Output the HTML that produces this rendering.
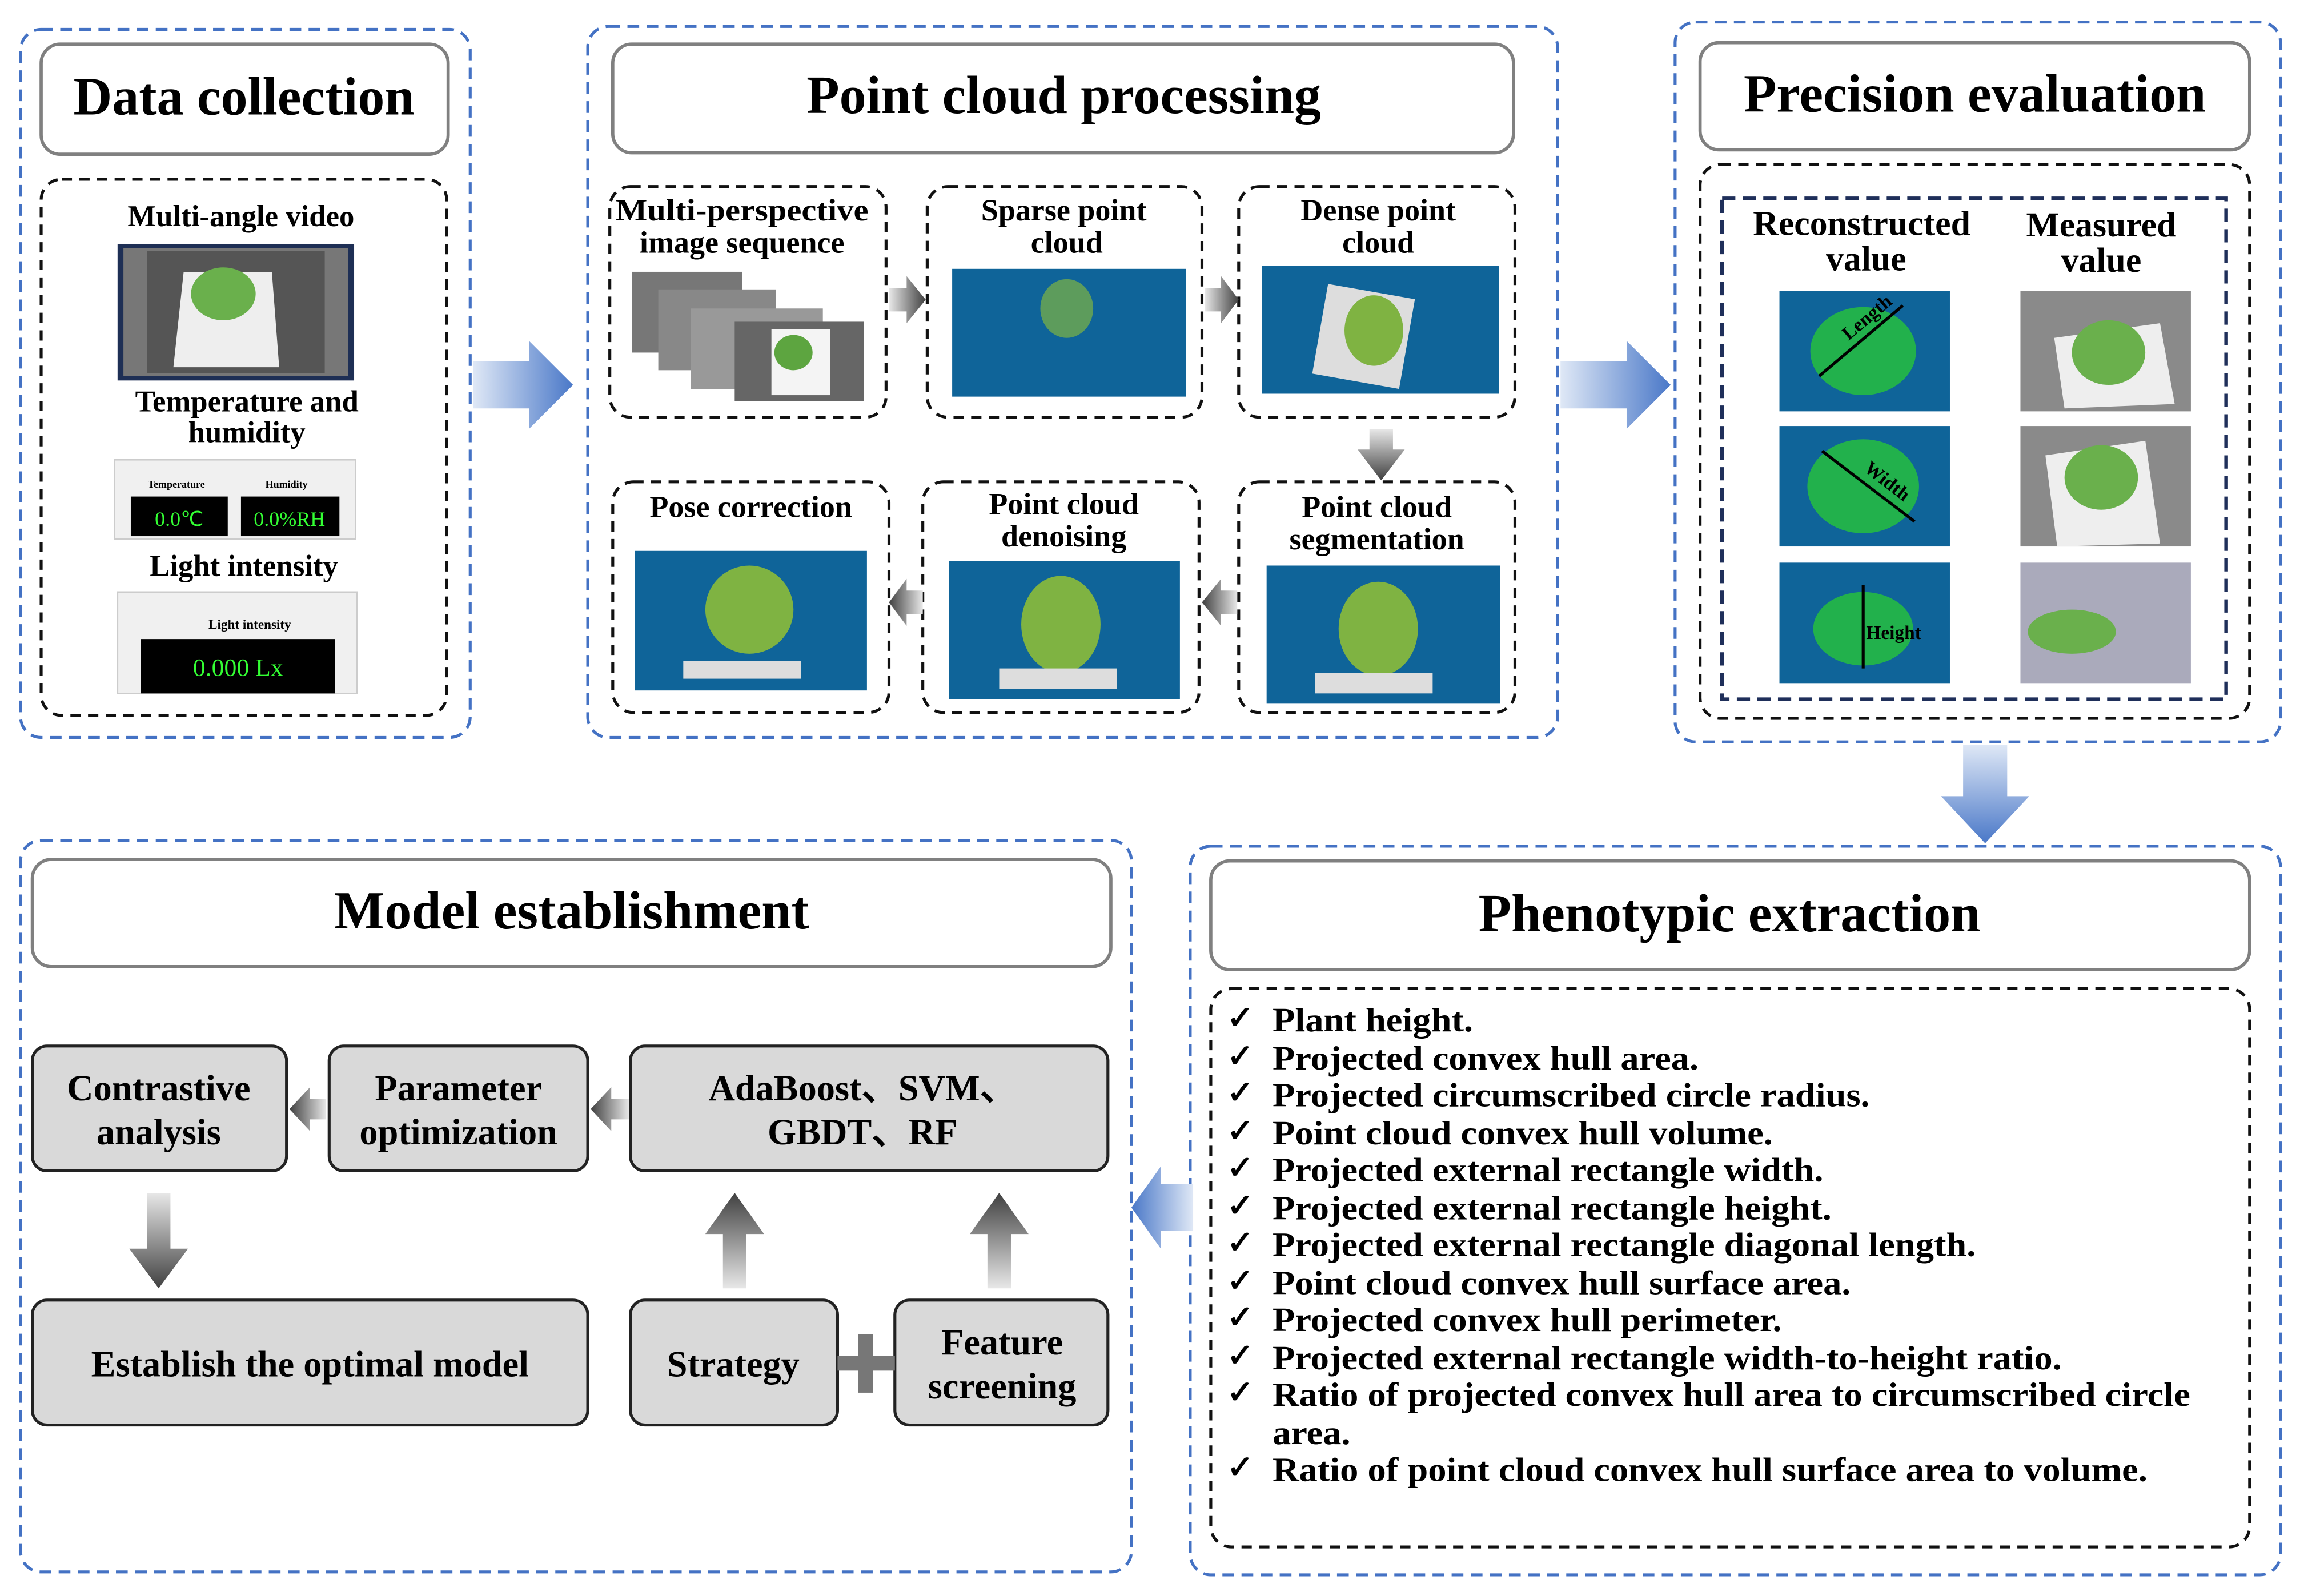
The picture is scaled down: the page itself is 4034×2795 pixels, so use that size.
<!DOCTYPE html>
<html><head><meta charset="utf-8"><style>
html,body{margin:0;padding:0;background:#fff;}
svg{display:block;}
text{font-family:"Liberation Serif",serif;font-weight:bold;fill:#000;}
</style></head><body>
<svg width="4034" height="2795" viewBox="0 0 1568 1086.4" preserveAspectRatio="none" xmlns="http://www.w3.org/2000/svg">
<defs>
<linearGradient id="bh" x1="0" y1="0" x2="1" y2="0"><stop offset="0" stop-color="#dfe8f6"/><stop offset="1" stop-color="#4a78c8"/></linearGradient>
<linearGradient id="bhl" x1="1" y1="0" x2="0" y2="0"><stop offset="0" stop-color="#dfe8f6"/><stop offset="1" stop-color="#4a78c8"/></linearGradient>
<linearGradient id="bv" x1="0" y1="0" x2="0" y2="1"><stop offset="0" stop-color="#dfe8f6"/><stop offset="1" stop-color="#4a78c8"/></linearGradient>
<linearGradient id="gh" x1="0" y1="0" x2="1" y2="0"><stop offset="0" stop-color="#e8e8e8"/><stop offset="1" stop-color="#404040"/></linearGradient>
<linearGradient id="ghl" x1="1" y1="0" x2="0" y2="0"><stop offset="0" stop-color="#e8e8e8"/><stop offset="1" stop-color="#404040"/></linearGradient>
<linearGradient id="gv" x1="0" y1="0" x2="0" y2="1"><stop offset="0" stop-color="#e8e8e8"/><stop offset="1" stop-color="#404040"/></linearGradient>
<linearGradient id="gvu" x1="0" y1="1" x2="0" y2="0"><stop offset="0" stop-color="#e8e8e8"/><stop offset="1" stop-color="#404040"/></linearGradient>
</defs>
<g fill="none" stroke="#4472c4" stroke-width="2" stroke-dasharray="8,5">
<rect x="14" y="20" width="306" height="482" rx="14"/>
<rect x="400" y="18" width="660" height="484" rx="14"/>
<rect x="1140" y="15" width="412" height="490" rx="14"/>
<rect x="14" y="572" width="756" height="498" rx="14"/>
<rect x="810" y="576" width="742" height="496" rx="14"/>
</g>
<g fill="#fff" stroke="#808080" stroke-width="2.2">
<rect x="28" y="30" width="277" height="75" rx="13"/>
<rect x="417" y="30" width="613" height="74" rx="13"/>
<rect x="1157" y="29" width="374" height="73" rx="13"/>
<rect x="22" y="585" width="734" height="73" rx="13"/>
<rect x="824" y="586" width="707" height="74" rx="13"/>
</g>
<g font-size="36.5" text-anchor="middle">
<text x="166" y="78">Data collection</text>
<text x="724" y="77">Point cloud processing</text>
<text x="1344" y="76">Precision evaluation</text>
<text x="389" y="632">Model establishment</text>
<text x="1177" y="634">Phenotypic extraction</text>
</g>
<g fill="none" stroke="#111" stroke-width="2" stroke-dasharray="7,5">
<rect x="28" y="122" width="276" height="365" rx="14"/>
<rect x="415" y="127" width="188" height="157" rx="14"/>
<rect x="631" y="127" width="187" height="157" rx="14"/>
<rect x="843" y="127" width="188" height="157" rx="14"/>
<rect x="417" y="328" width="188" height="157" rx="14"/>
<rect x="628" y="328" width="188" height="157" rx="14"/>
<rect x="843" y="328" width="188" height="157" rx="14"/>
<rect x="1157" y="112" width="374" height="377" rx="14"/>
<rect x="824" y="673" width="707" height="380" rx="14"/>
</g>
<rect x="1172" y="135" width="343" height="341" fill="none" stroke="#1f2f5a" stroke-width="2.5" stroke-dasharray="9,5"/>
<g font-size="20.5" text-anchor="middle">
<text x="164" y="154">Multi-angle video</text>
<text x="168" y="280">Temperature and</text>
<text x="168" y="301">humidity</text>
<text x="166" y="392">Light intensity</text>
</g>
<rect x="80" y="166" width="161" height="93" fill="#1e2f55"/>
<rect x="84" y="169" width="153" height="87" fill="#777"/>
<rect x="100" y="171" width="121" height="83" fill="#555"/>
<polygon points="125,185 185,185 190,250 118,250" fill="#eee"/>
<ellipse cx="152" cy="200" rx="22" ry="18" fill="#6ab04c"/>
<rect x="78" y="313" width="164" height="54" fill="#f0f0f0" stroke="#ccc"/>
<text x="120" y="332" font-size="7" text-anchor="middle">Temperature</text>
<text x="195" y="332" font-size="7" text-anchor="middle">Humidity</text>
<rect x="89" y="338" width="66" height="27" fill="#000"/>
<rect x="164" y="338" width="67" height="27" fill="#000"/>
<text x="122" y="358" font-size="14" text-anchor="middle" style="fill:#3f3;font-weight:normal">0.0℃</text>
<text x="197" y="358" font-size="14" text-anchor="middle" style="fill:#3f3;font-weight:normal">0.0%RH</text>
<rect x="80" y="403" width="163" height="69" fill="#f0f0f0" stroke="#ccc"/>
<text x="170" y="428" font-size="9" text-anchor="middle">Light intensity</text>
<rect x="96" y="435" width="132" height="37" fill="#000"/>
<text x="162" y="460" font-size="17" text-anchor="middle" style="fill:#3f3;font-weight:normal">0.000 Lx</text>
<g font-size="21" text-anchor="middle">
<text x="505" y="150" textLength="172" lengthAdjust="spacingAndGlyphs">Multi-perspective</text>
<text x="505" y="172">image sequence</text>
<text x="724" y="150">Sparse point</text>
<text x="726" y="172">cloud</text>
<text x="938" y="150">Dense point</text>
<text x="938" y="172">cloud</text>
<text x="511" y="352">Pose correction</text>
<text x="724" y="350">Point cloud</text>
<text x="724" y="372">denoising</text>
<text x="937" y="352">Point cloud</text>
<text x="937" y="374">segmentation</text>
</g>
<g>
<rect x="430" y="185" width="75" height="55" fill="#777"/>
<rect x="448" y="197" width="80" height="55" fill="#888"/>
<rect x="470" y="210" width="90" height="55" fill="#999"/>
<rect x="500" y="219" width="88" height="54" fill="#666"/>
<rect x="525" y="224" width="40" height="45" fill="#f4f4f4"/>
<ellipse cx="540" cy="240" rx="13" ry="12" fill="#5da540"/>
</g>
<g fill="#0f6499">
<rect x="648" y="183" width="159" height="87"/>
<rect x="859" y="181" width="161" height="87"/>
<rect x="432" y="375" width="158" height="95"/>
<rect x="646" y="382" width="157" height="94"/>
<rect x="862" y="385" width="159" height="94"/>
</g>
<g fill="#7fb342">
<ellipse cx="726" cy="210" rx="18" ry="20" opacity="0.7"/>
<rect x="898" y="198" width="60" height="62" fill="#ddd" transform="rotate(10 928 229)"/>
<ellipse cx="935" cy="225" rx="20" ry="24"/>
<ellipse cx="510" cy="415" rx="30" ry="30"/>
<rect x="465" y="450" width="80" height="12" fill="#ddd"/>
<ellipse cx="722" cy="425" rx="27" ry="33"/>
<rect x="680" y="455" width="80" height="14" fill="#ddd"/>
<ellipse cx="938" cy="428" rx="27" ry="32"/>
<rect x="895" y="458" width="80" height="14" fill="#ddd"/>
</g>
<polygon points="605,196 617,196 617,188 630,204 617,220 617,212 605,212" fill="url(#gh)"/>
<polygon points="820,196 831,196 831,188 843,204 831,220 831,212 820,212" fill="url(#gh)"/>
<polygon points="932,292 948,292 948,306 956,306 940,327 924,306 932,306" fill="url(#gv)"/>
<polygon points="628,402 617,402 617,394 605,410 617,426 617,418 628,418" fill="url(#ghl)"/>
<polygon points="842,402 831,402 831,394 818,410 831,426 831,418 842,418" fill="url(#ghl)"/>
<polygon points="322,246 360,246 360,232 390,262 360,292 360,278 322,278" fill="url(#bh)"/>
<polygon points="1062,246 1107,246 1107,232 1137,262 1107,292 1107,278 1062,278" fill="url(#bh)"/>
<polygon points="1336,507 1366,507 1366,542 1381,542 1351,574 1321,542 1336,542" fill="url(#bv)"/>
<polygon points="812,806 790,806 790,794 770,822 790,850 790,838 812,838" fill="url(#bhl)"/>
<g font-size="24" text-anchor="middle">
<text x="1267" y="160">Reconstructed</text>
<text x="1270" y="184">value</text>
<text x="1430" y="161">Measured</text>
<text x="1430" y="185">value</text>
</g>
<g fill="#0f6499">
<rect x="1211" y="198" width="116" height="82"/>
<rect x="1211" y="290" width="116" height="82"/>
<rect x="1211" y="383" width="116" height="82"/>
</g>
<g fill="#22b14c">
<ellipse cx="1268" cy="239" rx="36" ry="30"/>
<ellipse cx="1268" cy="331" rx="38" ry="32"/>
<ellipse cx="1268" cy="428" rx="34" ry="25"/>
</g>
<g stroke="#000" stroke-width="2">
<line x1="1238" y1="256" x2="1295" y2="208"/>
<line x1="1240" y1="307" x2="1303" y2="355"/>
<line x1="1268" y1="398" x2="1268" y2="455"/>
</g>
<text x="1258" y="232" font-size="13" transform="rotate(-40 1258 232)">Length</text>
<text x="1268" y="320" font-size="13" transform="rotate(38 1268 320)">Width</text>
<text x="1270" y="435" font-size="13">Height</text>
<g fill="#8a8a8a">
<rect x="1375" y="198" width="116" height="82"/>
<rect x="1375" y="290" width="116" height="82"/>
<rect x="1375" y="383" width="116" height="82" fill="#aab"/>
</g>
<polygon points="1398,230 1470,220 1480,275 1405,278" fill="#eee"/>
<ellipse cx="1435" cy="240" rx="25" ry="22" fill="#6ab04c"/>
<polygon points="1392,310 1460,300 1470,370 1400,372" fill="#eee"/>
<ellipse cx="1430" cy="325" rx="25" ry="22" fill="#6ab04c"/>
<ellipse cx="1410" cy="430" rx="30" ry="15" fill="#6ab04c"/>
<g fill="#d9d9d9" stroke="#222" stroke-width="2">
<rect x="22" y="712" width="173" height="85" rx="10"/>
<rect x="224" y="712" width="176" height="85" rx="10"/>
<rect x="429" y="712" width="325" height="85" rx="10"/>
<rect x="22" y="885" width="378" height="85" rx="10"/>
<rect x="429" y="885" width="141" height="85" rx="10"/>
<rect x="609" y="885" width="145" height="85" rx="10"/>
</g>
<g font-size="25" text-anchor="middle">
<text x="108" y="749">Contrastive</text>
<text x="108" y="779">analysis</text>
<text x="312" y="749">Parameter</text>
<text x="312" y="779">optimization</text>
<text x="587" y="749">AdaBoost、SVM、</text>
<text x="587" y="779">GBDT、RF</text>
<text x="211" y="937">Establish the optimal model</text>
<text x="499" y="937">Strategy</text>
<text x="682" y="922">Feature</text>
<text x="682" y="952">screening</text>
</g>
<polygon points="222,748 211,748 211,740 197,755 211,770 211,762 222,762" fill="url(#ghl)"/>
<polygon points="428,748 416,748 416,740 402,755 416,770 416,762 428,762" fill="url(#ghl)"/>
<polygon points="100,812 116,812 116,850 128,850 108,877 88,850 100,850" fill="url(#gv)"/>
<polygon points="492,877 508,877 508,840 520,840 500,812 480,840 492,840" fill="url(#gvu)"/>
<polygon points="672,877 688,877 688,840 700,840 680,812 660,840 672,840" fill="url(#gvu)"/>
<rect x="570" y="923" width="39" height="10" fill="#777"/>
<rect x="584" y="908" width="10" height="40" fill="#777"/>
<g font-size="21.5">
<text x="835" y="700">✓</text>
<text x="835" y="726">✓</text>
<text x="835" y="751">✓</text>
<text x="835" y="777">✓</text>
<text x="835" y="802">✓</text>
<text x="835" y="828">✓</text>
<text x="835" y="853">✓</text>
<text x="835" y="879">✓</text>
<text x="835" y="904">✓</text>
<text x="835" y="930">✓</text>
<text x="835" y="955">✓</text>
<text x="835" y="1006">✓</text>
</g>
<g font-size="23" transform="translate(866,0) scale(1.09,1) translate(-866,0)">
<text x="866" y="702">Plant height.</text>
<text x="866" y="728">Projected convex hull area.</text>
<text x="866" y="753">Projected circumscribed circle radius.</text>
<text x="866" y="779">Point cloud convex hull volume.</text>
<text x="866" y="804">Projected external rectangle width.</text>
<text x="866" y="830">Projected external rectangle height.</text>
<text x="866" y="855">Projected external rectangle diagonal length.</text>
<text x="866" y="881">Point cloud convex hull surface area.</text>
<text x="866" y="906">Projected convex hull perimeter.</text>
<text x="866" y="932">Projected external rectangle width-to-height ratio.</text>
<text x="866" y="957">Ratio of projected convex hull area to circumscribed circle</text>
<text x="866" y="983">area.</text>
<text x="866" y="1008">Ratio of point cloud convex hull surface area to volume.</text>
</g>
</svg>
</body></html>
